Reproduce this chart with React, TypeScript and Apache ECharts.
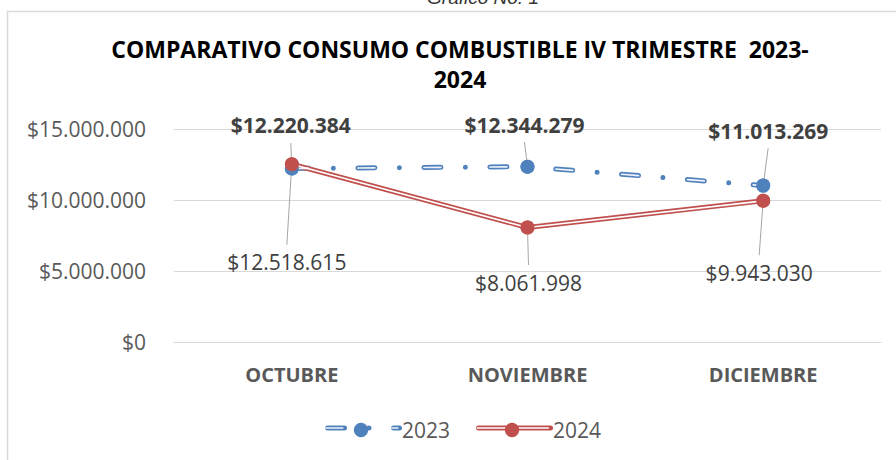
import React, { useEffect, useRef } from 'react';
import * as echarts from 'echarts';

// ---- data ----
const categories = ['OCTUBRE', 'NOVIEMBRE', 'DICIEMBRE'];
const values2023 = [12220384, 12344279, 11013269];
const values2024 = [12518615, 8061998, 9943030];
const seriesNames = ['2023', '2024'];
const yMin = 0;
const yMax = 15000000;
const yInterval = 5000000;
const titleLines = ['COMPARATIVO CONSUMO COMBUSTIBLE IV TRIMESTRE  2023-', '2024'];
const caption = 'Gráfico No. 1';

// ---- label placement (offset from the point, px) ----
const labelOffsets2023 = [[-1, -43], [-3, -42], [5, -55]];
const labelOffsets2024 = [[-5, 98], [1, 55], [-4, 72]];

// ---- legend item left edges (px) ----
const legendLefts = [320, 471];

const FONT = "'Open Sans', 'Noto Sans', sans-serif";
const BLUE = '#4F81BD';
const RED = '#C0504D';
const AXIS_TEXT = '#595959';
const LABEL_TEXT = '#404040';
const GRID = '#D9D9D9';
const INNER_BLUE = '#EEF3FA';

const fmt = (v: number) => '$' + Math.round(v).toString().replace(/\B(?=(\d{3})+(?!\d))/g, '.');

const makeLayout = (offs: number[][]) => (params: any) => {
  const r = params.rect;
  const o = offs[params.dataIndex] || [0, 0];
  return {
    x: r.x + r.width / 2 + o[0],
    y: r.y + r.height / 2 + o[1],
    align: 'center',
    verticalAlign: 'middle',
  };
};

const blueDash = [17, 24.5, 0.01, 24.5];
const blueInnerDash = [17, 49.01];

// names of the helper series
const innerNames = seriesNames.map((n) => 'inner' + n);
const markNames = seriesNames.map((n) => 'marks' + n);
const legendText = (name: string) => name.replace('marks', '');

export default function App() {
  const ref = useRef<HTMLDivElement>(null);

  useEffect(() => {
    if (!ref.current) return;
    const chart = echarts.init(ref.current, undefined, { renderer: 'svg' });

    const symbolSeries = (name: string, data: number[], color: string, bold: boolean, offs: number[][]) => ({
      name,
      type: 'line',
      data,
      symbol: 'circle',
      symbolSize: 14,
      showSymbol: true,
      itemStyle: { color },
      lineStyle: { width: 0, opacity: 0 },
      z: 4,
      silent: true,
      label: {
        show: true,
        formatter: (p: any) => fmt(p.value),
        fontFamily: FONT,
        fontSize: 21,
        fontWeight: bold ? 'bold' : 'normal',
        color: LABEL_TEXT,
        lineHeight: 21,
        padding: 7,
      },
      labelLine: { show: true, lineStyle: { color: '#A6A6A6', width: 1 } },
      labelLayout: makeLayout(offs),
    });

    const legendBase = {
      top: 414,
      itemWidth: 72,
      itemHeight: 18,
      itemGap: 26,
      selectedMode: false,
    };

    // line-only legend icons (outer coloured line, then inner light line), no text
    const lineLegends: any[] = [];
    seriesNames.forEach((n, i) => {
      lineLegends.push({
        ...legendBase,
        left: legendLefts[i],
        z: 5,
        data: [n],
        formatter: () => '',
        itemStyle: { opacity: 0 },
        lineStyle: { width: 5 },
        textStyle: { fontSize: 1 },
      });
      lineLegends.push({
        ...legendBase,
        left: legendLefts[i],
        z: 6,
        data: [innerNames[i]],
        formatter: () => '',
        itemStyle: { opacity: 0 },
        lineStyle: { width: 1.6 },
        textStyle: { fontSize: 1 },
      });
    });

    chart.setOption({
      animation: false,
      backgroundColor: '#ffffff',
      grid: { left: 174, right: 15, top: 129, bottom: 118, containLabel: false },
      graphic: [
        {
          type: 'rect',
          z: -10,
          shape: { x: 7.5, y: 11.5, width: 920, height: 480 },
          style: { fill: 'none', stroke: GRID, lineWidth: 1.5 },
        },
        {
          type: 'text',
          x: 483,
          y: 7,
          style: {
            text: caption,
            fontFamily: "'Liberation Sans', Arial, sans-serif",
            fontStyle: 'italic',
            fontSize: 19,
            fill: '#333333',
            align: 'center',
            verticalAlign: 'bottom',
          },
        },
        {
          type: 'text',
          x: 460,
          y: 34,
          style: {
            text: titleLines.join('\n'),
            fontFamily: FONT,
            fontWeight: 'bold',
            fontSize: 23,
            lineHeight: 30,
            fill: '#000000',
            align: 'center',
            verticalAlign: 'top',
          },
        },
      ],
      legend: [
        ...lineLegends,
        {
          ...legendBase,
          left: legendLefts[0],
          z: 7,
          data: markNames,
          formatter: legendText,
          lineStyle: { opacity: 0 },
          textStyle: { fontFamily: FONT, fontSize: 21, color: AXIS_TEXT, lineHeight: 22 },
        },
      ],
      xAxis: {
        type: 'category',
        data: categories,
        boundaryGap: true,
        axisLine: { show: true, lineStyle: { color: GRID, width: 1 } },
        axisTick: { show: false },
        axisLabel: {
          fontFamily: FONT,
          fontSize: 20,
          fontWeight: 'bold',
          color: AXIS_TEXT,
          lineHeight: 20,
          margin: 22,
        },
      },
      yAxis: {
        type: 'value',
        min: yMin,
        max: yMax,
        interval: yInterval,
        axisLine: { show: false },
        axisTick: { show: false },
        splitLine: { lineStyle: { color: GRID, width: 1 } },
        axisLabel: {
          fontFamily: FONT,
          fontSize: 21,
          color: AXIS_TEXT,
          margin: 28,
          formatter: (v: number) => fmt(v),
        },
      },
      series: [
        {
          name: seriesNames[0],
          type: 'line',
          data: values2023,
          symbol: 'circle',
          symbolSize: 14,
          itemStyle: { color: BLUE },
          lineStyle: { color: BLUE, width: 5, type: blueDash, cap: 'round', join: 'round' },
          z: 2,
          silent: true,
        },
        {
          name: seriesNames[1],
          type: 'line',
          data: values2024,
          symbol: 'circle',
          symbolSize: 14,
          itemStyle: { color: RED },
          lineStyle: { color: RED, width: 5, type: 'solid', cap: 'round', join: 'round' },
          z: 2,
          silent: true,
        },
        {
          name: innerNames[0],
          type: 'line',
          data: values2023,
          symbol: 'none',
          showSymbol: false,
          itemStyle: { color: INNER_BLUE },
          lineStyle: { color: INNER_BLUE, width: 1.7, type: blueInnerDash, cap: 'round' },
          z: 3,
          silent: true,
        },
        {
          name: innerNames[1],
          type: 'line',
          data: values2024,
          symbol: 'none',
          showSymbol: false,
          itemStyle: { color: '#FFFFFF' },
          lineStyle: { color: '#FFFFFF', width: 1.7, type: 'solid', join: 'round' },
          z: 3,
          silent: true,
        },
        symbolSeries(markNames[0], values2023, BLUE, true, labelOffsets2023),
        symbolSeries(markNames[1], values2024, RED, false, labelOffsets2024),
      ],
    });

    return () => chart.dispose();
  }, []);

  return (
    <div
      ref={ref}
      style={{ position: 'absolute', left: 0, top: 0, width: 896, height: 460 }}
    />
  );
}
